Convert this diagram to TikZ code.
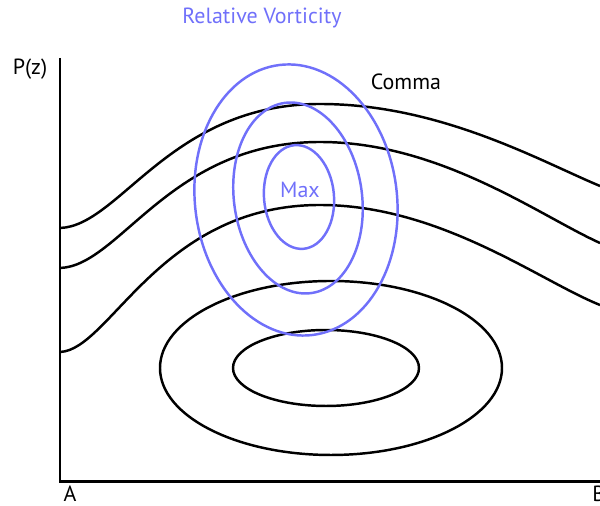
\documentclass[tikz,border=0pt]{standalone}
\usepackage{fontspec}
\setmainfont{PT Sans}
\usetikzlibrary{positioning}
\definecolor{vortblue}{RGB}{112,112,250}

\begin{document}
\begin{tikzpicture}[
		x=0.02cm, y=0.02cm,
		contour/.style={draw=black, line width=1.4pt},
		vort/.style={draw=vortblue, line width=1.4pt},
		axis/.style={draw=black, line width=1.7pt},
		label/.style={font=\fontsize{12.5}{14}\selectfont, inner sep=0pt}
		]
		\useasboundingbox (0,0) rectangle (600,506);
		
		% ==========================================
		% 1. AXES
		% ==========================================
		\draw[axis] (60,448) -- (60,24) -- (600,24);
		\node[label] (pz) at (30,437) {P(z)};
		\node[label] (A) at (70,12) {A};
		\node[label, anchor=west] (B) at (592,12) {B};
		
		% ==========================================
		% 2. HEIGHT CONTOURS (black)
		% ==========================================
		\draw[contour] (60,278) .. controls (120,280) and (170,402) .. (320,402)
			.. controls (440,402) and (540,345) .. (600,320);
		\draw[contour] (60,238) .. controls (120,240) and (170,364) .. (320,364)
			.. controls (440,364) and (540,290) .. (600,263);
		\draw[contour] (60,154) .. controls (110,156) and (160,301) .. (320,301)
			.. controls (440,301) and (540,225) .. (600,201);
		\draw[contour] (331,138) ellipse [x radius=171, y radius=87];
		\draw[contour] (326,138) ellipse [x radius=93, y radius=38];
		\node[label] (comma) at (406,424) {Comma};
		
		% ==========================================
		% 3. RELATIVE VORTICITY (blue)
		% ==========================================
		\draw[vort, rotate around={7:(296,306)}] (296,306) ellipse [x radius=101, y radius=136];
		\draw[vort, rotate around={8:(298,308)}] (298,308) ellipse [x radius=64, y radius=96];
		\draw[vort, rotate around={5:(299,309)}] (299,309) ellipse [x radius=35, y radius=52];
		\node[label, text=vortblue] (max) at (300,316) {Max};
		\node[label, text=vortblue] (title) at (262,488) {Relative Vorticity};
		
	\end{tikzpicture}
\end{document}
